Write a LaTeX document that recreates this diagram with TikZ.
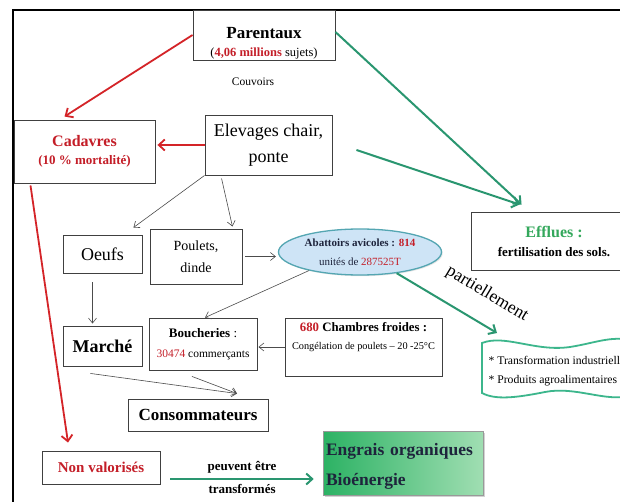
\documentclass[tikz,border=0pt]{standalone}
\usepackage{fontspec}
\setmainfont{Liberation Serif}
\usetikzlibrary{arrows.meta,shapes.geometric,shadows,calc}
\definecolor{redA}{RGB}{212,36,40}
\definecolor{redT}{RGB}{196,30,40}
\definecolor{greenA}{RGB}{42,150,112}
\definecolor{greenT}{RGB}{52,168,92}
\definecolor{tapeC}{RGB}{60,182,140}
\definecolor{ellF}{RGB}{206,228,246}
\definecolor{ellC}{RGB}{84,166,178}
\definecolor{engL}{RGB}{44,178,100}
\definecolor{engR}{RGB}{160,222,178}
\definecolor{navyT}{RGB}{30,36,60}
\newcommand\fsz[2]{\fontsize{#1}{#2}\selectfont}
\begin{document}
\begin{tikzpicture}[x=1pt,y=-1pt,
 box/.style={draw=black!75,line width=0.9pt,fill=white,align=center,inner sep=0pt,
   drop shadow={opacity=0.22,shadow xshift=1.2pt,shadow yshift=-1.2pt}},
 blk/.style={draw=black!70,line width=0.6pt,-{Straight Barb[length=5pt,width=8pt]}},
 redarr/.style={draw=redA,line width=1.8pt,-{Straight Barb[length=6pt,width=11pt]}},
 grnarr/.style={draw=greenA,line width=2pt,-{Straight Barb[length=6pt,width=11pt]}},
]
\useasboundingbox (0,0) rectangle (620,502);
\clip (0,0) rectangle (620,502);
\fill[white] (0,0) rectangle (620,502);

% frame
\draw[line width=2pt] (13,502) -- (13,10) -- (620,10);

% nodes
\node[box,minimum width=142pt,minimum height=50pt,drop shadow={opacity=0}] (par) at (264,35)
  {\rule{0pt}{28pt}\fsz{17}{19}\bfseries Parentaux\\[6pt]\fsz{12.5}{14}\mdseries({\color{redT}\bfseries 4,06 millions} sujets)};
\node[font=\fsz{11.5}{13}] (couv) at (253,82) {Couvoirs};

\node[box,minimum width=141pt,minimum height=63pt,text=redT,font=\bfseries] (cad) at (84.5,151.5)
  {\fsz{16}{19}Cadavres\\[6pt]\fsz{13}{15}(10 \% mortalité)};

\node[box,minimum width=127pt,minimum height=60pt,font=\fsz{18}{26}] (elev) at (268.5,145)
  {Elevages chair,\\ponte};

\node[box,minimum width=79pt,minimum height=38pt,font=\fsz{18}{20}] (oeufs) at (102.5,254) {Oeufs};
\node[box,minimum width=92pt,minimum height=55pt,font=\fsz{14}{22}] (poul) at (196,256.5) {Poulets,\\dinde};

\node[ellipse,draw=ellC,line width=1.3pt,fill=ellF,minimum width=163pt,minimum height=46pt,
  inner sep=0pt,align=center,text=navyT,font=\fsz{11}{19},
  drop shadow={opacity=0.2,shadow xshift=1.2pt,shadow yshift=-1.2pt}] (abat) at (360,252)
  {\textbf{Abattoirs avicoles : {\color{redT}814}}\\unités de {\color{redT}287525T}};

\node[box,minimum width=166pt,minimum height=58pt,font=\bfseries] (effl) at (554,241)
  {\fsz{16}{18}{\color{greenT}Efflues :}\\[7pt]\fsz{13}{15}fertilisation des sols.};

\node[box,minimum width=108pt,minimum height=52pt,font=\fsz{11.5}{20}] (bouch) at (203,344)
  {\rule{0pt}{10pt}\fsz{13}{20}\textbf{Boucheries} :\\{\color{redT}30474} commerçants};

\node[box,minimum width=157pt,minimum height=58pt,font=\fsz{10.3}{18}] (chamb) at (363.5,347)
  {\fsz{12.8}{18}\textbf{{\color{redT}680} Chambres froides :}\\Congélation de poulets – 20 -25°C\\[4pt]};

\node[box,minimum width=79pt,minimum height=40pt,font=\fsz{18}{20}\bfseries] (marche) at (102.5,346) {Marché};
\node[box,minimum width=140pt,minimum height=32pt,font=\fsz{17}{19}\bfseries] (conso) at (198,415) {Consommateurs};
\node[box,minimum width=118pt,minimum height=33pt,text=redT,font=\fsz{15}{17}\bfseries] (nonval) at (101,467.5) {Non valorisés};

\node[draw=black!40,line width=0.6pt,left color=engL,right color=engR,minimum width=160pt,
  minimum height=64pt,align=left,inner sep=0pt,text width=154pt,text=navyT,
  font=\fsz{17.5}{30}\bfseries,
  drop shadow={opacity=0.35,shadow xshift=2pt,shadow yshift=-2pt}] (engr) at (403,463)
  {\rule{0pt}{19pt}Engrais organiques\\Bioénergie};

% wavy banner
\coordinate (tapeTL) at (482,343);
\draw[draw=tapeC,line width=1.8pt,fill=white]
  (tapeTL) .. controls (505,334) and (535,352) .. (570,347)
  .. controls (595,343) and (610,336) .. (630,340) -- (630,396)
  .. controls (605,402) and (575,386) .. (545,392)
  .. controls (515,398) and (495,400) .. (482,393) -- cycle;
\node[anchor=west,align=left,font=\fsz{11.7}{19}] (tapetxt) at (485,371)
  {* Transformation industrielle\\* Produits agroalimentaires};

\node[rotate=-31,font=\fsz{17.5}{19}] (part) at (487,294) {partiellement};

% connectors
\draw[redarr] (par.west) -- ([xshift=-20pt,yshift=3pt]cad.north);
\draw[redarr] (elev.west) -- ([xshift=2pt]cad.east |- elev.west);
\draw[grnarr] ([yshift=3pt]par.east) -- ([xshift=51pt,yshift=7pt]effl.north west);
\draw[grnarr] ([xshift=24pt,yshift=-5pt]elev.east) -- ([xshift=49pt,yshift=7pt]effl.north west);

\draw[blk] (elev.south west) -- ([xshift=-9pt,yshift=7pt]oeufs.north east);
\draw[blk] ([xshift=17pt,yshift=-3pt]elev.south west) -- ([xshift=-10pt,yshift=2pt]poul.north east);
\draw[blk] ([xshift=3pt]poul.east) -- ([xshift=-2pt]abat.west |- poul.east);
\draw[blk] (abat.200) -- ([xshift=2pt]bouch.north);
\draw[blk] (chamb.west) -- ([xshift=1pt]bouch.east |- chamb.west);
\draw[blk] ([xshift=-10pt,yshift=-9pt]oeufs.south) -- ([xshift=-10pt,yshift=2pt]marche.north);
\draw[blk] ([xshift=-12pt,yshift=-7pt]marche.south) -- ([xshift=39pt,yshift=5pt]conso.north);
\draw[blk] ([xshift=-11pt,yshift=-6pt]bouch.south) -- ([xshift=39pt,yshift=5pt]conso.north);

\draw[grnarr] (abat.-30) -- ([xshift=15pt,yshift=10pt]tapeTL);
\draw[redarr] ([xshift=-54pt,yshift=-2pt]cad.south) -- ([xshift=-33pt,yshift=8pt]nonval.north);

\coordinate (gstart) at ([xshift=10pt,yshift=-11.5pt]nonval.east);
\draw[grnarr] (gstart) -- ([xshift=-9pt]engr.west |- gstart)
  node[midway,above=1pt,font=\fsz{13}{15}\bfseries] {peuvent être}
  node[midway,below=1pt,font=\fsz{13}{15}\bfseries] {transformés};
\end{tikzpicture}
\end{document}
